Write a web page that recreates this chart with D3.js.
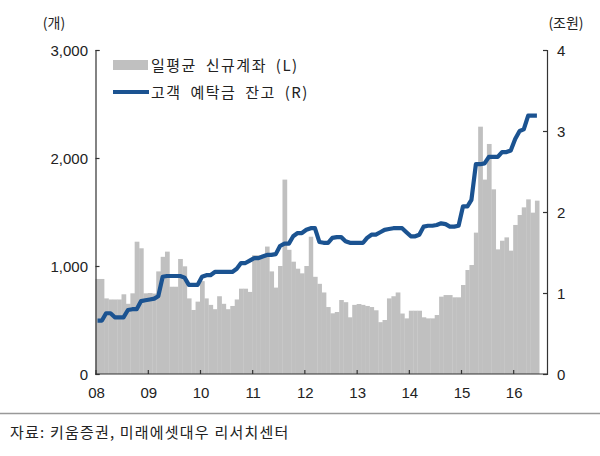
<!DOCTYPE html>
<html>
<head>
<meta charset="utf-8">
<script src="https://cdn.jsdelivr.net/npm/d3@7"></script>
<style>
  body { margin: 0; background: #fff; }
  svg { display: block; }
</style>
</head>
<body>
<svg width="600" height="456"></svg>
<script>
// monthly data, Jan 2008 - Jun 2016
const startYear = 2008;
const newAccounts = [
  880, 880, 700, 690, 690, 690, 738, 650, 747, 1225, 1164, 747,
  750, 745, 950, 1085, 1133, 808, 808, 1065, 997, 700, 593, 670,
  860, 700, 640, 600, 720, 650, 600, 630, 690, 790, 790, 760,
  1100, 1100, 1100, 1180, 950, 800, 1000, 1800, 1150, 1040, 975, 932,
  1000, 1271, 900, 835, 755, 620, 562, 574, 685, 665, 525, 640,
  648, 640, 630, 620, 590, 480, 500, 700, 720, 755, 560, 515,
  586, 586, 586, 525, 515, 515, 546, 716, 731, 731, 710, 710,
  824, 963, 1009, 1309, 2290, 1800, 2130, 1710, 1154, 1234, 1265, 1142,
  1380, 1472, 1543, 1617, 1494, 1605
];
const deposits = [
  0.66, 0.66, 0.75, 0.75, 0.70, 0.70, 0.70, 0.79, 0.80, 0.80, 0.90, 0.91,
  0.92, 0.93, 0.96, 1.20, 1.21, 1.21, 1.21, 1.21, 1.19, 1.10, 1.10, 1.10,
  1.20, 1.22, 1.22, 1.26, 1.26, 1.26, 1.26, 1.26, 1.30, 1.37, 1.37, 1.40,
  1.43, 1.43, 1.45, 1.47, 1.47, 1.48, 1.58, 1.61, 1.61, 1.70, 1.74, 1.74,
  1.78, 1.80, 1.80, 1.63, 1.62, 1.62, 1.68, 1.69, 1.69, 1.64, 1.62, 1.62,
  1.62, 1.62, 1.68, 1.72, 1.72, 1.75, 1.78, 1.79, 1.80, 1.80, 1.80, 1.75,
  1.70, 1.70, 1.72, 1.82, 1.83, 1.83, 1.84, 1.86, 1.85, 1.82, 1.82, 1.83,
  2.07, 2.07, 2.15, 2.59, 2.59, 2.60, 2.68, 2.68, 2.68, 2.74, 2.74, 2.76,
  2.90, 3.00, 3.02, 3.19, 3.19, 3.19
];
const leftTicks = [0, 1000, 2000, 3000];
const rightTicks = [0, 1, 2, 3, 4];
const legendLabels = ['일평균 신규계좌 (L)', '고객 예탁금 잔고 (R)'];
const leftUnit = '(개)';
const rightUnit = '(조원)';
const source = '자료: 키움증권, 미래에셋대우 리서치센터';

const months = newAccounts.map((d, i) => new Date(startYear, i, 1));
const font = '"Liberation Sans", Arial, "Noto Sans CJK KR", sans-serif';
const krFont = '"Noto Sans CJK KR", "Liberation Sans", sans-serif';

const svg = d3.select('svg');
const m = {left: 95.5, right: 547, top: 50, bottom: 374};

const x = d3.scaleTime()
    .domain([new Date(startYear, 0, 1), new Date(startYear, newAccounts.length, 1)])
    .range([m.left, m.left + 8.5 * 52.2]);
const yL = d3.scaleLinear().domain([0, 3000]).range([m.bottom, m.top]);
const yR = d3.scaleLinear().domain([0, 4]).range([m.bottom, m.top]);

// bars
svg.append('g')
  .selectAll('rect')
  .data(newAccounts)
  .join('rect')
    .attr('x', (d, i) => x(months[i]))
    .attr('width', (d, i) => x(new Date(startYear, i + 1, 1)) - x(months[i]) + 0.3)
    .attr('y', d => yL(d))
    .attr('height', d => m.bottom - yL(d))
    .attr('fill', '#c0c0c0');

// line
const line = d3.line()
    .x((d, i) => x(new Date(startYear, i, 15)))
    .y(d => yR(d));
svg.append('path')
    .datum(deposits)
    .attr('d', line)
    .attr('fill', 'none')
    .attr('stroke', '#1b5391')
    .attr('stroke-width', 4.2)
    .attr('stroke-linejoin', 'round');

// axes
const axisColor = '#333';
const gL = svg.append('g')
    .attr('transform', `translate(${m.left},0)`)
    .call(d3.axisRight(yL).tickValues(leftTicks).tickSize(4).tickFormat(''));
const gR = svg.append('g')
    .attr('transform', `translate(${m.right},0)`)
    .call(d3.axisLeft(yR).tickValues(rightTicks).tickSize(4).tickFormat(''));
const years = d3.range(startYear, 2017).map(y => new Date(y, 0, 1));
const gB = svg.append('g')
    .attr('transform', `translate(0,${m.bottom})`)
    .call(d3.axisTop(x).tickValues(years).tickSize(4).tickFormat(''));
gB.select('.domain').attr('d', `M${m.left},0H${m.right}`);
[gL, gR, gB].forEach(g => {
  g.selectAll('path, line').attr('stroke', axisColor).attr('stroke-width', 1.2);
});

// tick labels
svg.append('g').selectAll('text')
  .data(leftTicks)
  .join('text')
    .attr('x', 88)
    .attr('y', d => yL(d) + 5.5)
    .attr('text-anchor', 'end')
    .style('font-family', font)
    .style('font-size', '15px')
    .style('fill', '#222')
    .text(d => d3.format(',')(d));
svg.append('g').selectAll('text')
  .data(rightTicks)
  .join('text')
    .attr('x', 557)
    .attr('y', d => yR(d) + 5.5)
    .attr('text-anchor', 'start')
    .style('font-family', font)
    .style('font-size', '15px')
    .style('fill', '#222')
    .text(d => d);
svg.append('g').selectAll('text')
  .data(years)
  .join('text')
    .attr('x', d => x(d) + 1)
    .attr('y', 398)
    .attr('text-anchor', 'middle')
    .style('font-family', font)
    .style('font-size', '15px')
    .style('fill', '#222')
    .text(d3.timeFormat('%y'));

// units
svg.append('text').attr('x', 54).attr('y', 28).attr('text-anchor', 'middle')
    .style('font-family', krFont).style('font-size', '14px').style('fill', '#222')
    .text(leftUnit);
svg.append('text').attr('x', 566).attr('y', 28).attr('text-anchor', 'middle')
    .style('font-family', krFont).style('font-size', '14px').style('fill', '#222')
    .text(rightUnit);

// legend
const lg = svg.append('g');
lg.append('rect').attr('x', 113).attr('y', 60).attr('width', 35).attr('height', 10).attr('fill', '#c0c0c0');
lg.append('line').attr('x1', 113).attr('x2', 149).attr('y1', 92).attr('y2', 92)
    .attr('stroke', '#1b5391').attr('stroke-width', 4.2);
lg.selectAll('text.lab')
  .data(legendLabels)
  .join('text')
    .attr('class', 'lab')
    .attr('x', 151)
    .attr('y', (d, i) => 71 + i * 27)
    .style('font-family', krFont)
    .style('font-size', '15px')
    .style('letter-spacing', '1.5px')
    .style('word-spacing', '4px')
    .style('fill', '#222')
    .text(d => d);

// source
svg.append('line').attr('x1', 0).attr('x2', 600).attr('y1', 413.5).attr('y2', 413.5)
    .attr('stroke', '#999').attr('stroke-width', 1.5);
svg.append('text').attr('x', 10).attr('y', 438)
    .style('font-family', krFont).style('font-size', '15px')
    .style('letter-spacing', '1.2px').style('fill', '#222')
    .text(source);
</script>
</body>
</html>
